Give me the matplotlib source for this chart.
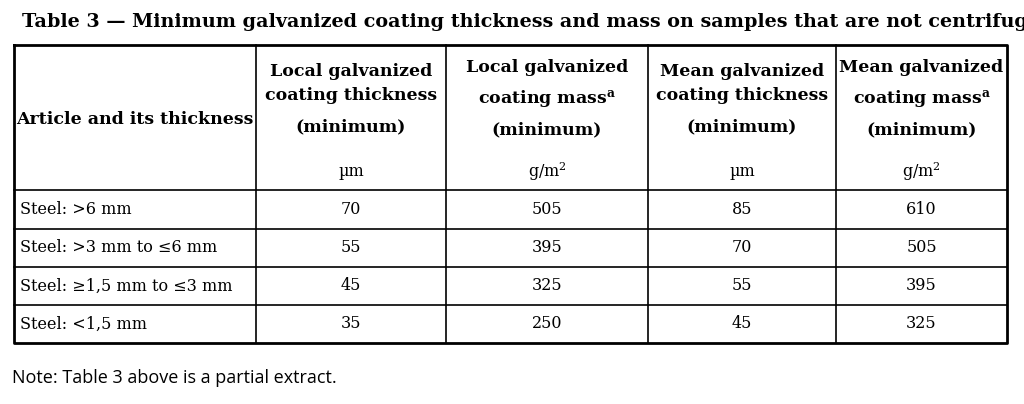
import matplotlib
matplotlib.use("Agg")
import matplotlib.pyplot as plt

plt.rcParams['mathtext.fontset'] = 'dejavuserif'

title = "Table 3 — Minimum galvanized coating thickness and mass on samples that are not centrifuged"
note = "Note: Table 3 above is a partial extract."
row_labels = ["Steel: >6 mm", "Steel: >3 mm to ≤6 mm", "Steel: ≥1,5 mm to ≤3 mm", "Steel: <1,5 mm"]
local_thickness = [70, 55, 45, 35]
local_mass = [505, 395, 325, 250]
mean_thickness = [85, 70, 55, 45]
mean_mass = [610, 505, 395, 325]
units = ["µm", "g/m$^2$", "µm", "g/m$^2$"]

fig = plt.figure(figsize=(10.24, 4.04), dpi=100)
ax = fig.add_axes([0, 0, 1, 1])
ax.set_xlim(0, 1024); ax.set_ylim(404, 0); ax.axis('off')

serif = "DejaVu Serif"
t = ax.text(22, 22, title, fontfamily=serif, fontweight='bold', fontsize=13.8, va='center', ha='left')
ax.text(12, 378, note, fontfamily="Open Sans", fontsize=13, va='center', ha='left')

L, R, T, B = 14, 1007, 45, 343
cols = [14, 256, 446, 648, 836, 1007]
hdr = 190
rows_y = [hdr, 229, 267, 305, 343]
for x in cols[1:-1]:
    ax.plot([x, x], [T, B], color='black', lw=1.2)
for y in rows_y[:-1]:
    ax.plot([L, R], [y, y], color='black', lw=1.2)
ax.plot([L, R, R, L, L], [T, T, B, B, T], color='black', lw=2)

hfs = 12.5
ax.text(135, 120, "Article and its thickness", fontfamily=serif, fontweight='bold', fontsize=hfs, ha='center', va='center')
heads = [
    ["Local galvanized", "coating thickness"],
    ["Local galvanized", "coating mass$^{\\mathbf{a}}$"],
    ["Mean galvanized", "coating thickness"],
    ["Mean galvanized", "coating mass$^{\\mathbf{a}}$"],
]
for i, h in enumerate(heads):
    cx = (cols[i+1] + cols[i+2]) / 2
    ys = (72, 95) if i % 2 == 0 else (68, 99)
    ax.text(cx, ys[0], h[0], fontfamily=serif, fontweight='bold', fontsize=hfs, ha='center', va='center')
    ax.text(cx, ys[1], h[1], fontfamily=serif, fontweight='bold', fontsize=hfs, ha='center', va='center')
    ax.text(cx, 127 if i % 2 == 0 else 130, "(minimum)", fontfamily=serif, fontweight='bold', fontsize=hfs, ha='center', va='center')
    ax.text(cx, 172, units[i], fontfamily=serif, fontsize=11.5, ha='center', va='center')

series = [local_thickness, local_mass, mean_thickness, mean_mass]
for r, lab in enumerate(row_labels):
    cy = (rows_y[r] + rows_y[r+1]) / 2
    ax.text(20, cy, lab, fontfamily=serif, fontsize=11.5, ha='left', va='center')
    for i, s in enumerate(series):
        cx = (cols[i+1] + cols[i+2]) / 2
        ax.text(cx, cy, str(s[r]), fontfamily=serif, fontsize=11.5, ha='center', va='center')

fig.savefig("out.png", dpi=100, facecolor='white')
